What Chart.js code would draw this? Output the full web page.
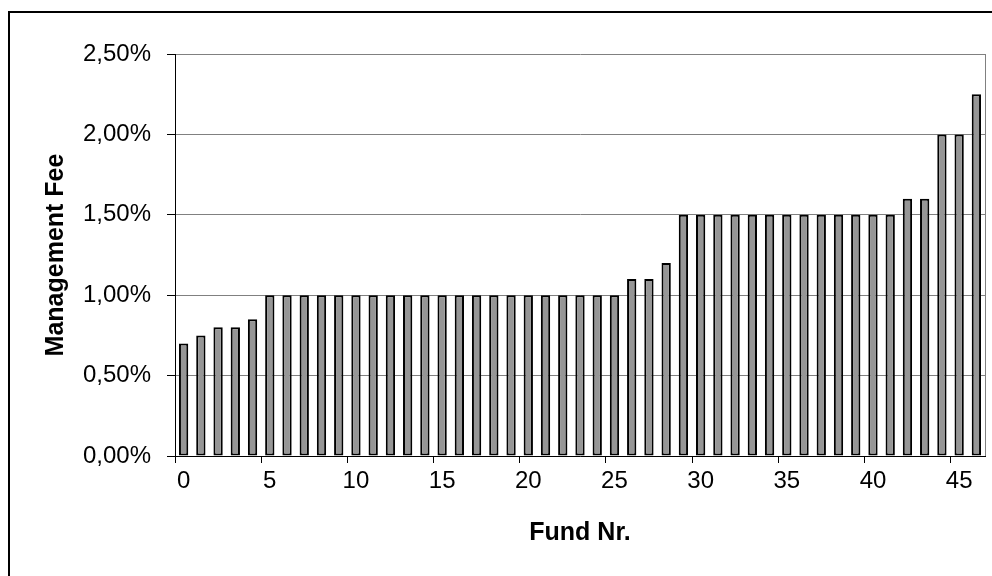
<!DOCTYPE html>
<html><head><meta charset="utf-8">
<script src="https://cdn.jsdelivr.net/npm/chart.js@4.4.1/dist/chart.umd.min.js"></script>
<style>html,body{margin:0;padding:0;background:#fff;}canvas{display:block}</style>
</head><body>
<canvas id="c" width="992" height="576"></canvas>
<script>
const funds = ['0','1','2','3','4','5','6','7','8','9','10','11','12','13','14','15','16','17','18','19','20','21','22','23','24','25','26','27','28','29','30','31','32','33','34','35','36','37','38','39','40','41','42','43','44','45','46'];
const fees = [0.70,0.75,0.80,0.80,0.85,
  1.00,1.00,1.00,1.00,1.00,1.00,1.00,1.00,1.00,1.00,1.00,1.00,1.00,1.00,1.00,1.00,1.00,1.00,1.00,1.00,1.00,
  1.10,1.10,1.20,
  1.50,1.50,1.50,1.50,1.50,1.50,1.50,1.50,1.50,1.50,1.50,1.50,1.50,
  1.60,1.60,2.00,2.00,2.25];
const yMin = 0, yMax = 2.5, yStep = 0.5;
const xTitle = 'Fund Nr.';
const yTitle = 'Management Fee';

Chart.defaults.font.family = "'Liberation Sans', Arial, sans-serif";
Chart.defaults.color = '#000';

const framePlugin = {
  id: 'frame',
  beforeDraw(chart) {
    const ctx = chart.ctx;
    ctx.save();
    ctx.fillStyle = '#fff';
    ctx.fillRect(0, 0, chart.width, chart.height);
    ctx.strokeStyle = '#000';
    ctx.lineWidth = 2;
    ctx.strokeRect(9, 12, 2000, 2000);
    ctx.restore();
  },
  afterDatasetsDraw(chart) {
    const a = chart.chartArea, ctx = chart.ctx;
    ctx.save();
    ctx.strokeStyle = '#808080';
    ctx.lineWidth = 1;
    ctx.beginPath();
    const x = Math.round(a.right) + 0.5;
    ctx.moveTo(x, a.top);
    ctx.lineTo(x, a.bottom);
    ctx.stroke();
    ctx.restore();
  }
};

new Chart(document.getElementById('c'), {
  type: 'bar',
  data: {
    labels: funds,
    datasets: [{
      data: fees,
      backgroundColor: '#969696',
      borderColor: '#000',
      borderWidth: 2,
      borderSkipped: false,
      categoryPercentage: 1,
      barPercentage: 0.54
    }]
  },
  options: {
    responsive: false,
    animation: false,
    devicePixelRatio: 1,
    layout: { padding: { left: 0, top: 54, right: 7, bottom: 0 } },
    plugins: { legend: { display: false }, tooltip: { enabled: false } },
    scales: {
      x: {
        offset: true,
        grid: {
          offset: true,
          drawOnChartArea: false,
          drawTicks: true,
          tickLength: 7,
          tickColor: (ctx) => (ctx.index % 5 === 0 ? '#000' : 'rgba(0,0,0,0)')
        },
        border: { color: '#000', width: 1 },
        ticks: {
          autoSkip: false,
          maxRotation: 0,
          padding: 4,
          font: { size: 24 },
          callback: (v, i) => (i % 5 === 0 ? funds[i] : '')
        },
        title: { display: true, text: xTitle, font: { size: 25, weight: 'bold' }, padding: { top: 0, bottom: 28 } },
        afterFit: (s) => { s.height = 120; }
      },
      y: {
        min: yMin, max: yMax,
        grid: { color: '#808080', tickColor: '#000', tickLength: 8 },
        border: { color: '#000', width: 1 },
        ticks: {
          stepSize: yStep,
          padding: 16,
          font: { size: 24 },
          callback: (v) => v.toFixed(2).replace('.', ',') + '%'
        },
        title: { display: true, text: yTitle, font: { size: 25, weight: 'bold' }, padding: { top: 41, bottom: 0 } },
        afterFit: (s) => { s.width = 175; }
      }
    }
  },
  plugins: [framePlugin]
});
</script>
</body></html>
